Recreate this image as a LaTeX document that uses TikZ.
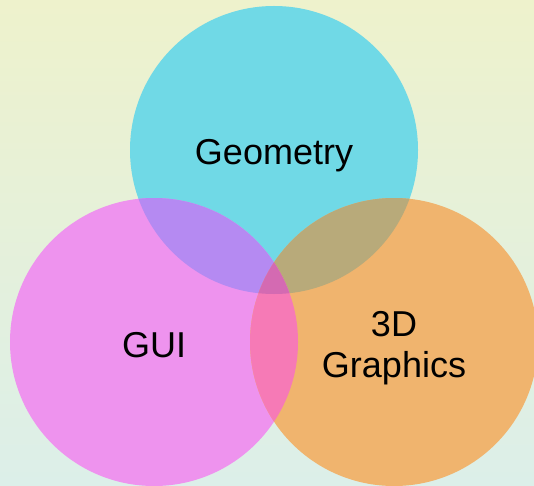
\documentclass[tikz,border=0pt]{standalone}
\usepackage{fontspec}
\setmainfont{Liberation Sans}
\usetikzlibrary{positioning}
\definecolor{vnbgtop}{HTML}{EEF2CC}
\definecolor{vnbgbot}{HTML}{DCEFE9}
\definecolor{vncyan}{HTML}{70D9E6}
\definecolor{vnpink}{HTML}{EE93EE}
\definecolor{vnorange}{HTML}{F0B46E}
\definecolor{vnpurple}{HTML}{B58AF2}
\definecolor{vnolive}{HTML}{B8AA7A}
\definecolor{vnrose}{HTML}{F67AB6}
\definecolor{vncore}{HTML}{D46AB2}

\begin{document}
\begin{tikzpicture}[x=1pt,y=1pt,
    venntext/.style={font=\fontsize{36}{41}\selectfont,align=center,inner sep=0pt}]
  \clip (0,0) rectangle (534,485);
  \shade[top color=vnbgtop,bottom color=vnbgbot] (0,0) rectangle (534,485);
  \coordinate (geo) at (274,335);
  \coordinate (gui) at (154,143);
  \coordinate (gfx) at (394,143);
  \fill[vncyan] (geo) circle[radius=144pt];
  \fill[vnpink] (gui) circle[radius=144pt];
  \fill[vnorange] (gfx) circle[radius=144pt];
  \begin{scope}
    \clip (geo) circle[radius=144pt];
    \fill[vnpurple] (gui) circle[radius=144pt];
    \fill[vnolive] (gfx) circle[radius=144pt];
  \end{scope}
  \begin{scope}
    \clip (gui) circle[radius=144pt];
    \fill[vnrose] (gfx) circle[radius=144pt];
  \end{scope}
  \begin{scope}
    \clip (geo) circle[radius=144pt];
    \clip (gui) circle[radius=144pt];
    \fill[vncore] (gfx) circle[radius=144pt];
  \end{scope}
  \node[venntext,anchor=base] (geotext) at (274,320) {Geometry};
  \node[venntext,anchor=base] (guitext) at (154,128) {GUI};
  \node[venntext] (gfxtext) at (394,137) {3D\\Graphics};
\end{tikzpicture}
\end{document}
